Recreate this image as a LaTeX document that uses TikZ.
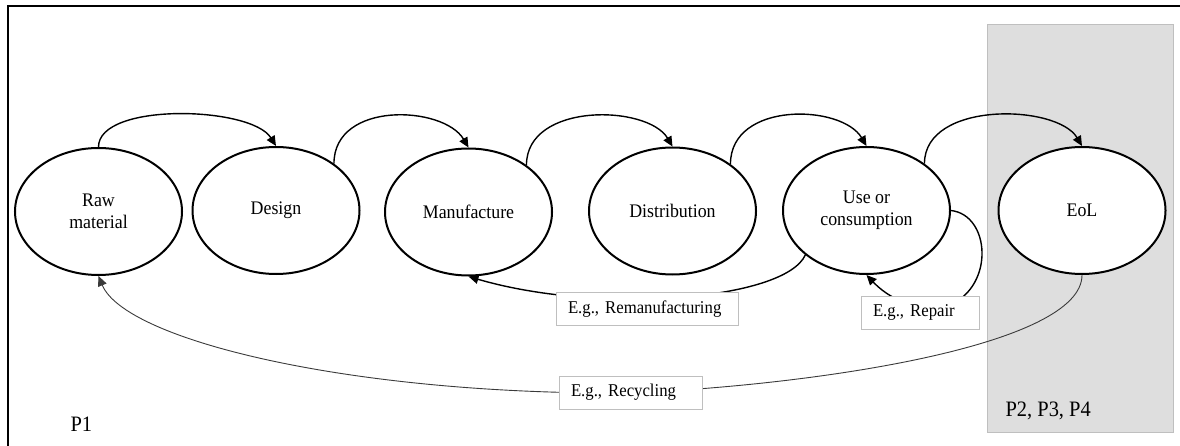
\documentclass[tikz,border=0pt]{standalone}
\usepackage{fontspec}
\setmainfont{Liberation Serif}[FakeStretch=0.93]
\usetikzlibrary{shapes.geometric,arrows.meta}
\definecolor{boxgrey}{HTML}{DEDEDE}
\definecolor{edgegrey}{HTML}{BFBFBF}
\definecolor{thinline}{HTML}{3A3A3A}
\begin{document}
\begin{tikzpicture}[x=1pt,y=-1pt,
  stage/.style={ellipse,draw,line width=2pt,fill=white,minimum width=167pt,minimum height=127pt,inner sep=0pt,align=center,font=\fontsize{19.2}{21.5}\selectfont},
  flow/.style={line width=1.4pt,-{Triangle[length=10pt,width=9pt]}},
  loopflow/.style={line width=1.4pt,-{Triangle[length=10pt,width=9pt]}},
  recflow/.style={line width=0.9pt,draw=thinline,-{Triangle[length=10pt,width=9pt]}},
  lbl/.style={draw=edgegrey,line width=0.8pt,fill=white,inner xsep=12pt,inner ysep=0pt,minimum height=33pt,align=left,font=\fontsize{18}{20}\selectfont},
  phase/.style={anchor=base west,font=\fontsize{22}{24}\selectfont},
  frame/.style={line width=2pt}]
\useasboundingbox (0,0) rectangle (1180,446);
% shaded end-of-life zone
\draw[fill=boxgrey,draw=edgegrey,line width=0.8pt] (987,24) rectangle (1173,432);
% outer frame
\draw[frame] (8,446) -- (8,6.5) -- (1180,6.5);

% stages
\node[stage] (raw) at (98.5,211.5) {Raw\\material};
\node[stage] (design) at (276,210.5) {Design};
\node[stage] (manuf) at (468.5,212) {Manufacture};
\node[stage] (distr) at (672.5,211) {Distribution};
\node[stage] (use) at (866.5,210.5) {Use or\\consumption};
\node[stage] (eol) at (1082,210.5) {EoL};

% forward flow
\draw[flow] (raw.north) .. controls +(0,-45) and +(-25,-40) .. (design.north);
\draw[flow] (design.39) .. controls +(0,-63) and +(-25,-42) .. (manuf.north);
\draw[flow] (manuf.39) .. controls +(0,-63) and +(-25,-42) .. (distr.north);
\draw[flow] (distr.39) .. controls +(0,-63) and +(-25,-42) .. (use.north);
\draw[flow] (use.39) .. controls +(0,-63) and +(-25,-42) .. (eol.north);

% remanufacturing loop
\draw[loopflow] (use.216) .. controls (785,300) and (600,315) .. (manuf.south);
\node[lbl,text width=158pt] (reman) at (647,309) {E.g., Remanufacturing};

% repair loop
\coordinate (rep) at (950,305);
\draw[loopflow] (use.east) .. controls (990,215) and (995,285) .. (rep) .. controls (930,313) and (895,305) .. (use.south);
\node[lbl,text width=94pt] (repair) at (920,312.5) {E.g., Repair};

% recycling loop
\coordinate (recmid) at (630,393);
\draw[recflow] (eol.south) .. controls (1082,345) and (820,385) .. (recmid) .. controls (350,395) and (125,340) .. (raw.south);
\node[lbl,text width=119pt] (recyc) at (630.5,392.5) {E.g., Recycling};

% phases
\node[phase] (p1) at (67,431) {P1};
\node[phase] (p234) at (1002,416) {P2, P3, P4};
\end{tikzpicture}
\end{document}
